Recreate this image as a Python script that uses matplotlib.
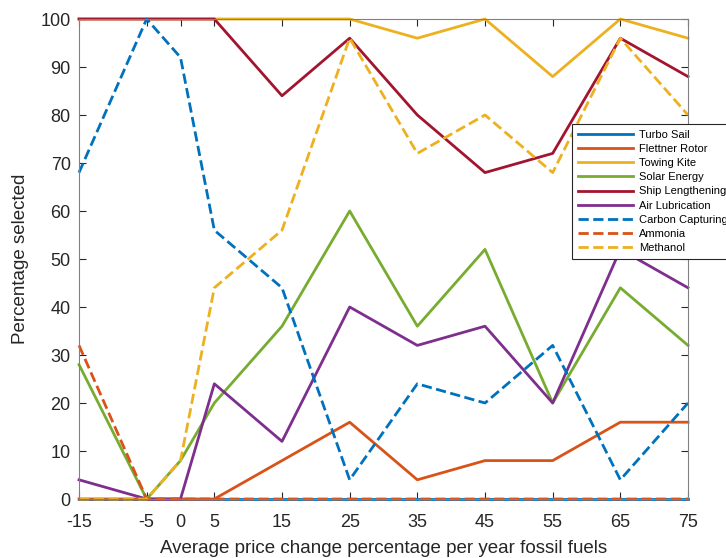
import matplotlib.pyplot as plt

plt.rcParams['font.family'] = ['Liberation Sans', 'DejaVu Sans']
plt.rcParams['axes.unicode_minus'] = False

# x positions (price change % per year)
x = [-15, -5, 0, 5, 15, 25, 35, 45, 55, 65, 75]
xticks = [-15, -5, 0, 5, 15, 25, 35, 45, 55, 65, 75]

turbo_sail = [0, 0, 0, 0, 0, 0, 0, 0, 0, 0, 0]
flettner_rotor = [0, 0, 0, 0, 8, 16, 4, 8, 8, 16, 16]
towing_kite = [100, 100, 100, 100, 100, 100, 96, 100, 88, 100, 96]
solar_energy = [28, 0, 8, 20, 36, 60, 36, 52, 20, 44, 32]
ship_lengthening = [100, 100, 100, 100, 84, 96, 80, 68, 72, 96, 88]
air_lubrication = [4, 0, 0, 24, 12, 40, 32, 36, 20, 52, 44]
carbon_capturing = [68, 100, 92, 56, 44, 4, 24, 20, 32, 4, 20]
ammonia = [32, 0, 0, 0, 0, 0, 0, 0, 0, 0, 0]
methanol = [0, 0, 8, 44, 56, 96, 72, 80, 68, 96, 80]

series = [
    ('Turbo Sail', turbo_sail, '#0072BD', '-'),
    ('Flettner Rotor', flettner_rotor, '#D95319', '-'),
    ('Towing Kite', towing_kite, '#EDB120', '-'),
    ('Solar Energy', solar_energy, '#77AC30', '-'),
    ('Ship Lengthening', ship_lengthening, '#A2142F', '-'),
    ('Air Lubrication', air_lubrication, '#7E2F8E', '-'),
    ('Carbon Capturing', carbon_capturing, '#0072BD', '--'),
    ('Ammonia', ammonia, '#D95319', '--'),
    ('Methanol', methanol, '#EDB120', '--'),
]

fig = plt.figure(figsize=(7.26, 5.58), dpi=100)
ax = fig.add_axes([79/726, 59/558, 609/726, 480/558])

for name, vals, col, ls in series:
    ax.plot(x, vals, color=col, linestyle=ls, linewidth=2, label=name, clip_on=False)

ax.set_xlim(-15, 75)
ax.set_ylim(0, 100)
ax.set_xticks(xticks)
ax.set_yticks(range(0, 101, 10))
ax.tick_params(direction='in', top=True, right=True, length=5, width=0.8,
               color='#262626', labelcolor='#262626', labelsize=13, pad=6)
ax.tick_params(axis='x', pad=11)
for sp in ax.spines.values():
    sp.set_color('#808080')
    sp.set_linewidth(0.8)

ax.set_xlabel('Average price change percentage per year fossil fuels', fontsize=13.5, color='#262626', labelpad=6)
ax.set_ylabel('Percentage selected', fontsize=13.5, color='#262626', labelpad=8)

leg = fig.legend(loc='upper left', bbox_to_anchor=(572/726, 1 - 124/558), fontsize=8,
                 frameon=True, fancybox=False, handlelength=5, handletextpad=0.5,
                 labelspacing=0.38, borderpad=0.5, borderaxespad=0)
leg.get_frame().set_edgecolor('#262626')
leg.get_frame().set_linewidth(0.8)
leg.get_frame().set_alpha(1)

fig.savefig('out.png', dpi=100)
